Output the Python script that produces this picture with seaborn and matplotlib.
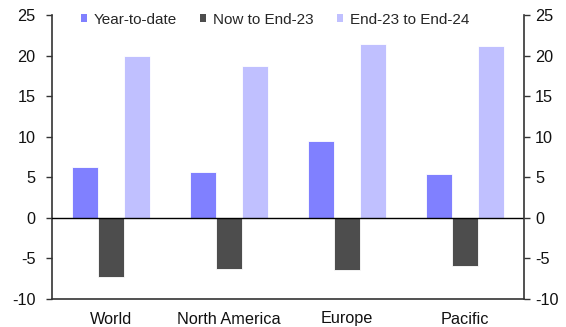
import matplotlib
matplotlib.use("Agg")
import matplotlib.pyplot as plt
import seaborn as sns
import pandas as pd

regions = ["World", "North America", "Europe", "Pacific"]
series = ["Year-to-date", "Now to End-23", "End-23 to End-24"]
year_to_date = [6.25, 5.6, 9.45, 5.4]
now_to_end23 = [-7.35, -6.3, -6.4, -5.9]
end23_to_end24 = [20.0, 18.7, 21.45, 21.2]
y_ticks = [-10, -5, 0, 5, 10, 15, 20, 25]
colors = ["#8080FF", "#4D4D4D", "#C0C0FF"]

df = pd.DataFrame({
    "region": regions * 3,
    "series": [series[0]] * 4 + [series[1]] * 4 + [series[2]] * 4,
    "value": year_to_date + now_to_end23 + end23_to_end24,
})

sns.set_theme(style="white")
plt.rcParams["font.family"] = ["Liberation Sans", "DejaVu Sans"]

tick_fs = 11.7
fig = plt.figure(figsize=(5.66, 3.27), dpi=100)
ax = fig.add_axes([52 / 566, 1 - 299 / 327, (524 - 52) / 566, (299 - 15) / 327])

sns.barplot(data=df, x="region", y="value", hue="series", order=regions,
            hue_order=series, palette=colors, width=0.66, gap=0,
            saturation=1, linewidth=0.6, edgecolor="white", ax=ax)

ax.set_xlim(-0.5, 3.5)
ax.set_ylim(-10, 25)
ax.set_yticks(y_ticks)
ax.set_yticklabels([str(t) for t in y_ticks])
ax.set_xlabel("")
ax.set_ylabel("")
ax.axhline(0, color="black", lw=1.0, zorder=5)

# category separators along the bottom axis
ax.set_xticks([-0.5, 0.5, 1.5, 2.5, 3.5], minor=True)
ax.tick_params(axis="x", which="minor", length=4, width=1, color="#333333", direction="out")
ax.tick_params(axis="x", which="major", length=0, pad=9, labelsize=tick_fs, colors="#111111")
ax.tick_params(axis="y", length=4, width=1, color="#333333", direction="out",
               labelsize=tick_fs, colors="#111111", left=True, pad=8)

for side in ["top", "right"]:
    ax.spines[side].set_visible(False)
for side in ["left", "bottom"]:
    ax.spines[side].set_color("#333333")
    ax.spines[side].set_linewidth(1.2)

ax2 = ax.twinx()
ax2.set_ylim(-10, 25)
ax2.set_yticks(y_ticks)
ax2.set_yticklabels([str(t) for t in y_ticks])
ax2.tick_params(axis="y", length=4, width=1, color="#333333", direction="out",
                labelsize=tick_fs, colors="#111111", right=True, pad=4)
for side in ["top", "left", "bottom"]:
    ax2.spines[side].set_visible(False)
ax2.spines["right"].set_color("#333333")
ax2.spines["right"].set_linewidth(1.2)

leg = ax.legend(loc="upper left", bbox_to_anchor=(0.042, 1.04), ncol=3, frameon=False,
                handlelength=0.4, handleheight=0.4, handletextpad=0.45,
                columnspacing=1.5, fontsize=11, borderaxespad=0.2)
for h in leg.legend_handles:
    h.set_edgecolor("none")

fig.savefig("out.png", dpi=100)
